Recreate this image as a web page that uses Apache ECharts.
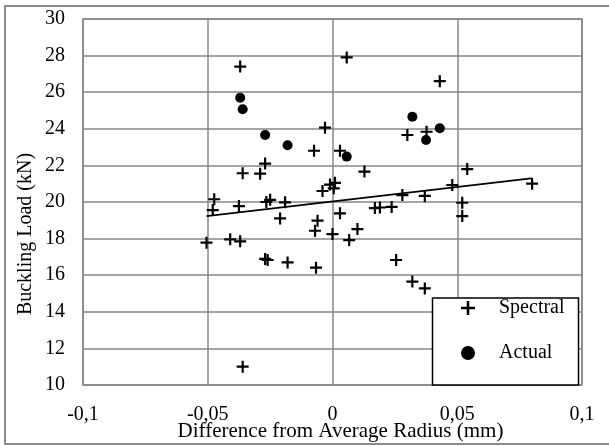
<!DOCTYPE html>
<html><head><meta charset="utf-8">
<script src="https://cdn.jsdelivr.net/npm/echarts@6/dist/echarts.min.js"></script>
<style>html,body{margin:0;padding:0;background:#fff}#c{width:609px;height:446px}</style>
</head><body><div id="c"></div>
<script>
var spectralX = [-0.037,0.0057,0.043,-0.003,0.030,0.0377,-0.0074,0.003,-0.027,-0.036,-0.029,0.0128,0.054,-0.004,-0.001,0.001,0.0005,0.048,0.08,0.028,0.037,-0.0474,-0.048,-0.0375,-0.0265,-0.025,-0.019,0.052,0.052,0.017,0.019,0.0237,0.003,-0.021,-0.006,-0.007,0.0,0.010,0.0067,-0.0505,-0.041,-0.037,-0.027,-0.026,-0.018,-0.0066,0.0255,0.032,0.037,-0.036];
var spectralY = [27.4,27.9,26.6,24.06,23.66,23.84,22.8,22.8,22.1,21.57,21.55,21.66,21.8,20.6,20.95,21.05,20.75,20.93,21.0,20.38,20.33,20.15,19.56,19.78,20.0,20.12,19.98,19.96,19.23,19.67,19.7,19.73,19.38,19.1,18.98,18.43,18.25,18.52,17.92,17.78,17.96,17.85,16.89,16.83,16.7,16.41,16.83,15.65,15.28,11.0];
var actualX = [-0.037,-0.036,-0.027,-0.018,0.0057,0.032,0.0375,0.043];
var actualY = [25.7,25.07,23.66,23.1,22.48,24.66,23.39,24.03];
var trendX = [-0.0505,0.0796];
var trendY = [19.23,21.29];
var xTickValues = [-0.1,-0.05,0,0.05,0.1];
var xTickLabels = ['-0,1','-0,05','0','0,05','0,1'];
var seriesNames = ['Spectral','Actual'];
var xTitle = 'Difference from Average Radius (mm)';
var yTitle = 'Buckling Load (kN)';

function zip(a,b){return a.map(function(v,i){return [v,b[i]];});}
var plusPath = 'path://M4.9,0H7.1V4.9H12V7.1H7.1V12H4.9V7.1H0V4.9H4.9Z';
var FONT = 'Liberation Serif';
var GRID = '#878787';

var chart = echarts.init(document.getElementById('c'));
chart.setOption({
  animation:false,
  backgroundColor:'#fff',
  textStyle:{fontFamily:FONT},
  grid:{left:83,top:19,right:27,bottom:61,show:true,borderColor:GRID,borderWidth:1.5,backgroundColor:'transparent',
    outerBoundsMode:'none',containLabel:false},
  xAxis:{type:'value',min:-0.1,max:0.1,interval:0.05,
    name:xTitle,nameLocation:'middle',nameGap:36,nameMoveOverlap:false,
    nameTextStyle:{fontFamily:FONT,fontSize:21,color:'#000',padding:[0,0,0,16]},
    axisLine:{show:false},axisTick:{show:false},
    axisLabel:{fontFamily:FONT,fontSize:20,color:'#000',margin:20,
      formatter:function(v){for(var i=0;i<xTickValues.length;i++){if(Math.abs(v-xTickValues[i])<1e-9)return xTickLabels[i];}return '';}},
    splitLine:{show:true,lineStyle:{color:GRID,width:1.5}}},
  yAxis:{type:'value',min:10,max:30,interval:2,
    axisLine:{show:false},axisTick:{show:false},
    axisLabel:{fontFamily:FONT,fontSize:20,color:'#000',margin:18},
    splitLine:{show:true,lineStyle:{color:GRID,width:1.5}}},
  legend:{data:seriesNames,orient:'vertical',left:461,top:298,itemWidth:14,itemHeight:14,itemGap:25,
    padding:[0,0,0,0],z:20,
    textStyle:{fontFamily:FONT,fontSize:20,color:'#000',padding:[0,0,0,19]}},
  graphic:[
    {type:'rect',shape:{x:5,y:6,width:612,height:438},style:{fill:'none',stroke:'#8a8a8a',lineWidth:2},z:-10,silent:true},
    {type:'rect',shape:{x:432.5,y:298,width:146,height:87},style:{fill:'#fff',stroke:'#000',lineWidth:1.5},z:5,silent:true},
    {type:'text',x:26,y:234,rotation:Math.PI/2,silent:true,z:5,
      style:{text:yTitle,fill:'#000',font:'20px "Liberation Serif"',align:'center',verticalAlign:'middle'}}
  ],
  series:[
    {name:'Spectral',type:'scatter',data:zip(spectralX,spectralY),symbol:plusPath,symbolSize:12,itemStyle:{color:'#000',opacity:1},z:3},
    {name:'Actual',type:'scatter',data:zip(actualX,actualY),symbol:'circle',symbolSize:10,itemStyle:{color:'#000',opacity:1},z:3},
    {name:'Trend',type:'line',data:zip(trendX,trendY),showSymbol:false,symbol:'none',lineStyle:{color:'#000',width:1.8},z:2}
  ]
});
</script>
</body></html>
